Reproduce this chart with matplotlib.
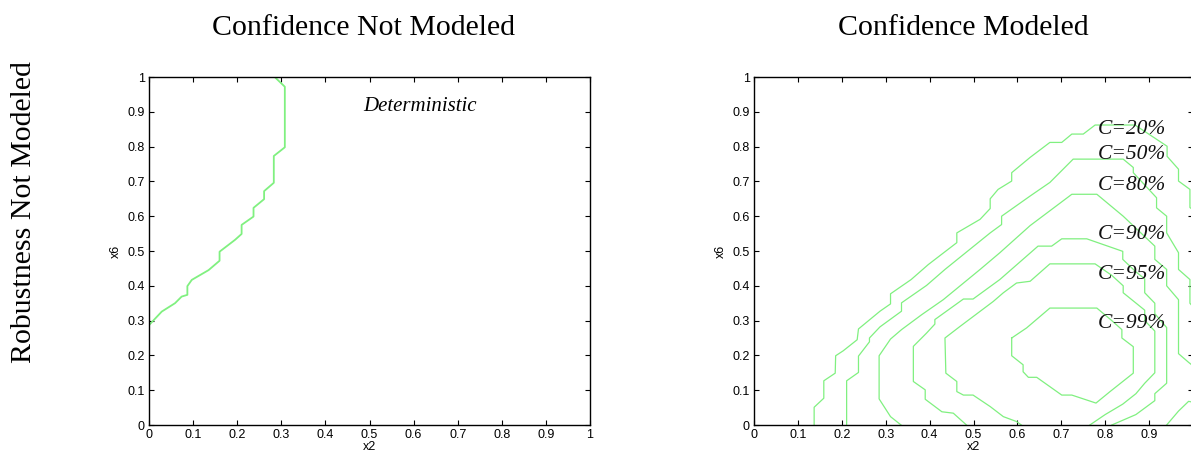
import matplotlib
matplotlib.use("Agg")
import matplotlib.pyplot as plt

# ---------------- data ----------------
col_titles = ["Confidence Not Modeled", "Confidence Modeled"]
row_title = "Robustness Not Modeled"
ticks = [0, 0.1, 0.2, 0.3, 0.4, 0.5, 0.6, 0.7, 0.8, 0.9, 1]
tick_labels = ["0", "0.1", "0.2", "0.3", "0.4", "0.5", "0.6", "0.7", "0.8", "0.9", "1"]

det_x = [0.285, 0.308, 0.308, 0.283, 0.283, 0.261, 0.261, 0.237, 0.237, 0.210, 0.210,
         0.195, 0.160, 0.160, 0.135, 0.097, 0.087, 0.087, 0.074, 0.059, 0.029, 0.0]
det_y = [1.0, 0.972, 0.798, 0.773, 0.696, 0.672, 0.649, 0.624, 0.599, 0.575, 0.549,
         0.532, 0.498, 0.472, 0.445, 0.417, 0.399, 0.374, 0.369, 0.350, 0.326, 0.287]

c20_x = [0.137, 0.137, 0.159, 0.159, 0.185, 0.186, 0.203, 0.235, 0.238, 0.287, 0.311, 0.311,
         0.358, 0.397, 0.462, 0.462, 0.515, 0.538, 0.538, 0.556, 0.587, 0.587, 0.629, 0.674,
         0.701, 0.724, 0.750, 0.777, 0.868, 0.941, 0.941, 0.967, 0.967, 0.993, 0.993, 1.02]
c20_y = [0.0, 0.051, 0.077, 0.127, 0.149, 0.199, 0.213, 0.245, 0.276, 0.327, 0.348, 0.377,
         0.418, 0.461, 0.524, 0.552, 0.591, 0.622, 0.650, 0.677, 0.701, 0.725, 0.769, 0.812,
         0.812, 0.836, 0.836, 0.862, 0.862, 0.801, 0.772, 0.735, 0.701, 0.677, 0.625, 0.60]

c50_x = [0.211, 0.211, 0.238, 0.238, 0.263, 0.263, 0.287, 0.336, 0.336, 0.393, 0.435, 0.538,
         0.564, 0.564, 0.629, 0.674, 0.727, 0.841, 0.864, 0.864, 0.917, 0.917, 0.940, 0.940,
         0.967, 0.967, 0.993, 0.993, 1.02]
c50_y = [0.0, 0.127, 0.151, 0.198, 0.239, 0.250, 0.282, 0.327, 0.351, 0.401, 0.447, 0.552,
         0.576, 0.600, 0.658, 0.697, 0.764, 0.764, 0.740, 0.725, 0.653, 0.624, 0.600, 0.552,
         0.495, 0.447, 0.418, 0.35, 0.31]

c80_x = [0.335, 0.311, 0.285, 0.285, 0.311, 0.336, 0.382, 0.431, 0.515, 0.560, 0.629,
         0.724, 0.781, 0.841, 0.913, 0.913, 0.940, 0.940, 0.967, 0.967, 0.990, 1.02,
         1.02, 0.990, 0.967, 0.940]
c80_y = [0.0, 0.024, 0.075, 0.199, 0.247, 0.274, 0.317, 0.360, 0.447, 0.495, 0.573,
         0.663, 0.663, 0.600, 0.514, 0.476, 0.447, 0.400, 0.360, 0.205, 0.180, 0.150,
         0.060, 0.068, 0.040, 0.0]

c90_x = [0.484, 0.454, 0.428, 0.390, 0.390, 0.363, 0.363, 0.393, 0.412, 0.412, 0.477, 0.499,
         0.560, 0.647, 0.678, 0.701, 0.758, 0.840, 0.840, 0.870, 0.890, 0.890, 0.913, 0.913,
         0.940, 0.940, 0.913, 0.913, 0.870, 0.815]
c90_y = [0.0, 0.034, 0.038, 0.074, 0.101, 0.125, 0.226, 0.264, 0.290, 0.303, 0.362, 0.362,
         0.418, 0.514, 0.514, 0.535, 0.535, 0.499, 0.476, 0.440, 0.420, 0.380, 0.350, 0.320,
         0.280, 0.120, 0.090, 0.070, 0.030, 0.0]

c95_x = [0.609, 0.598, 0.568, 0.538, 0.499, 0.477, 0.462, 0.462, 0.437, 0.435, 0.469, 0.545,
         0.568, 0.598, 0.629, 0.674, 0.777, 0.815, 0.841, 0.841, 0.890, 0.890, 0.913, 0.913,
         0.890, 0.870, 0.840, 0.800, 0.765]
c95_y = [0.0, 0.010, 0.024, 0.053, 0.086, 0.086, 0.096, 0.125, 0.149, 0.250, 0.283, 0.355,
         0.380, 0.408, 0.413, 0.463, 0.463, 0.430, 0.400, 0.380, 0.330, 0.300, 0.270, 0.150,
         0.120, 0.090, 0.060, 0.030, 0.0]

c99_x = [0.587, 0.587, 0.613, 0.613, 0.625, 0.644, 0.701, 0.724, 0.779, 0.811, 0.864, 0.864,
         0.838, 0.838, 0.815, 0.781, 0.674, 0.621, 0.587]
c99_y = [0.250, 0.199, 0.173, 0.153, 0.137, 0.137, 0.086, 0.086, 0.063, 0.096, 0.149, 0.225,
         0.250, 0.274, 0.300, 0.336, 0.336, 0.279, 0.250]

conf_labels = ["C=20%", "C=50%", "C=80%", "C=90%", "C=95%", "C=99%"]
label_y = [0.848, 0.778, 0.689, 0.548, 0.432, 0.291]
label_x = 0.784

# ---------------- drawing ----------------
GREEN = "#80f080"
W, H = 1191, 459
fig = plt.figure(figsize=(W / 100, H / 100), dpi=100)
fig.patch.set_facecolor("white")

tick_font = {"family": "Liberation Sans", "size": 9}


def make_axes(left_px, right_px, hide_last_x=False):
    ax = fig.add_axes([left_px / W, (H - 425) / H, (right_px - left_px) / W, 348 / H])
    ax.set_xlim(0, 1)
    ax.set_ylim(0, 1)
    ax.set_xticks(ticks)
    ax.set_yticks(ticks)
    xl = list(tick_labels)
    if hide_last_x:
        xl[-1] = ""
    ax.set_xticklabels(xl, fontdict=tick_font)
    ax.set_yticklabels(tick_labels, fontdict=tick_font)
    ax.tick_params(direction="in", length=3.5, width=0.8, top=True, right=True, pad=3,
                   colors="black")
    for s in ax.spines.values():
        s.set_linewidth(1.0)
    ax.set_xlabel("x2", fontdict={"family": "Liberation Sans", "size": 9}, labelpad=0)
    ax.set_ylabel("x6", fontdict={"family": "Liberation Sans", "size": 9}, labelpad=4)
    return ax


ax1 = make_axes(149, 590)
ax1.plot(det_x, det_y, color=GREEN, lw=1.3)
ax1.text(0.615, 0.914, "Deterministic", family="Liberation Serif", style="italic",
         fontsize=15, ha="center", va="center")

ax2 = make_axes(754, 1193, hide_last_x=True)
for xs, ys in [(c20_x, c20_y), (c50_x, c50_y), (c80_x, c80_y),
               (c90_x, c90_y), (c95_x, c95_y), (c99_x, c99_y)]:
    ax2.plot(xs, ys, color=GREEN, lw=0.9)
for lab, ly in zip(conf_labels, label_y):
    ax2.text(label_x, ly, lab, family="Liberation Serif", style="italic",
             fontsize=15.5, ha="left", va="center", color="#111111")

fig.text(363 / W, 1 - 28 / H, col_titles[0], family="Liberation Serif", fontsize=21.5,
         ha="center", va="center")
fig.text(963 / W, 1 - 28 / H, col_titles[1], family="Liberation Serif", fontsize=21.5,
         ha="center", va="center")
fig.text(24 / W, 1 - 212 / H, row_title, family="Liberation Serif", fontsize=21.5,
         ha="center", va="center", rotation=90)

fig.savefig("out.png", dpi=100)
